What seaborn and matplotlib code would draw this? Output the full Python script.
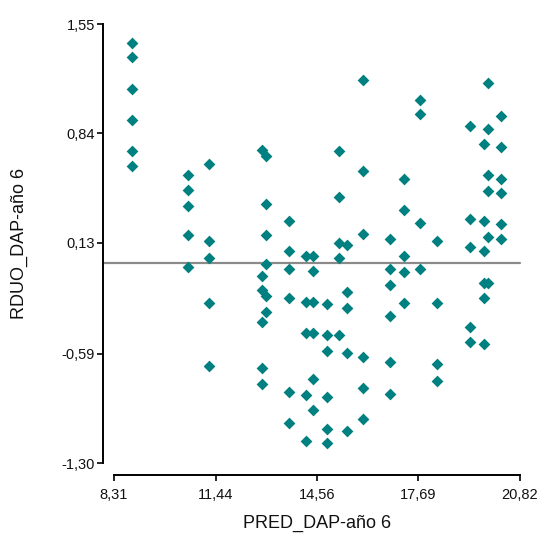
import matplotlib
matplotlib.use("Agg")
import matplotlib.pyplot as plt
import seaborn as sns
import pandas as pd

# Predicted DBH (year 6) and the matching residuals, grouped by predicted value
pred_dap = (
    [8.87] * 6
    + [10.60] * 5
    + [11.24] * 5
    + [12.86] * 6
    + [12.98] * 6
    + [13.71] * 6
    + [14.23] * 5
    + [14.45] * 6
    + [14.86] * 6
    + [15.25] * 5
    + [15.48] * 5
    + [15.99] * 6
    + [16.82] * 6
    + [17.24] * 5
    + [17.74] * 4
    + [18.25] * 4
    + [19.27] * 5
    + [19.72] * 6
    + [19.83] * 6
    + [20.23] * 6
)

rduo_dap = [
    1.429, 1.334, 1.130, 0.928, 0.727, 0.631,
    0.571, 0.475, 0.371, 0.180, -0.026,
    0.642, 0.141, 0.035, -0.262, -0.670,
    0.733, -0.087, -0.178, -0.386, -0.679, -0.787,
    0.694, 0.382, 0.180, -0.010, -0.217, -0.321,
    0.273, 0.076, -0.039, -0.228, -0.837, -1.038,
    0.048, -0.251, -0.455, -0.859, -1.158,
    0.048, -0.052, -0.251, -0.455, -0.750, -0.955,
    -0.264, -0.466, -0.573, -0.872, -1.075, -1.171,
    0.727, 0.427, 0.130, 0.035, -0.466,
    0.117, -0.191, -0.290, -0.586, -1.088,
    1.189, 0.595, 0.189, -0.609, -0.811, -1.012,
    0.152, -0.039, -0.143, -0.347, -0.644, -0.848,
    0.547, 0.345, 0.048, -0.061, -0.262,
    1.059, 0.966, 0.260, -0.039,
    0.143, -0.262, -0.657, -0.763,
    0.891, 0.284, 0.104, -0.418, -0.514,
    0.772, 0.271, 0.076, -0.130, -0.228, -0.524,
    1.167, 0.870, 0.573, 0.465, 0.165, -0.130,
    0.953, 0.751, 0.547, 0.452, 0.252, 0.154,
]

x_ticks = [8.31, 11.44, 14.56, 17.69, 20.82]
x_tick_labels = ["8,31", "11,44", "14,56", "17,69", "20,82"]
y_ticks = [1.55, 0.84, 0.13, -0.59, -1.30]
y_tick_labels = ["1,55", "0,84", "0,13", "-0,59", "-1,30"]

df = pd.DataFrame({"PRED_DAP-año 6": pred_dap, "RDUO_DAP-año 6": rduo_dap})

sns.set_style("white")
plt.rcParams["font.family"] = ["Liberation Sans", "DejaVu Sans"]

fig = plt.figure(figsize=(5.47, 5.36), dpi=100)
ax = fig.add_axes([114 / 547, 1 - 463.3 / 536, 406 / 547, 439.3 / 536])

# zero reference line, reaching back to the offset y spine
ax.axhline(0, xmin=-11 / 406, xmax=1, color="#8a8a8a", lw=1.6,
           clip_on=False, zorder=1)

sns.scatterplot(data=df, x="PRED_DAP-año 6", y="RDUO_DAP-año 6", ax=ax,
                marker="D", color="#008080", s=36, linewidth=0, zorder=3)

ax.set_xlim(8.31, 20.82)
ax.set_ylim(-1.30, 1.55)
ax.set_xticks(x_ticks)
ax.set_xticklabels(x_tick_labels)
ax.set_yticks(y_ticks)
ax.set_yticklabels(y_tick_labels)

for side in ("top", "right"):
    ax.spines[side].set_visible(False)
ax.spines["left"].set_position(("outward", 8))
ax.spines["bottom"].set_position(("outward", 8.6))
for side in ("left", "bottom"):
    ax.spines[side].set_linewidth(1.4)
    ax.spines[side].set_color("black")

ax.tick_params(axis="both", which="major", direction="out", length=4,
               width=1.2, color="black", labelsize=10.5, labelcolor="#111111",
               bottom=True, left=True, top=False, right=False)
ax.tick_params(axis="y", pad=1.5)
ax.tick_params(axis="x", pad=5)

ax.set_xlabel("PRED_DAP-año 6", fontsize=13, color="#111111")
ax.set_ylabel("RDUO_DAP-año 6", fontsize=13, color="#111111")
ax.xaxis.label.set_va("center")
ax.yaxis.label.set_va("center")
ax.xaxis.set_label_coords(0.5, (13 - 72.7) / 439.3)
ax.yaxis.set_label_coords((19 - 114) / 406, 0.5)

fig.savefig("out.png", dpi=100)
